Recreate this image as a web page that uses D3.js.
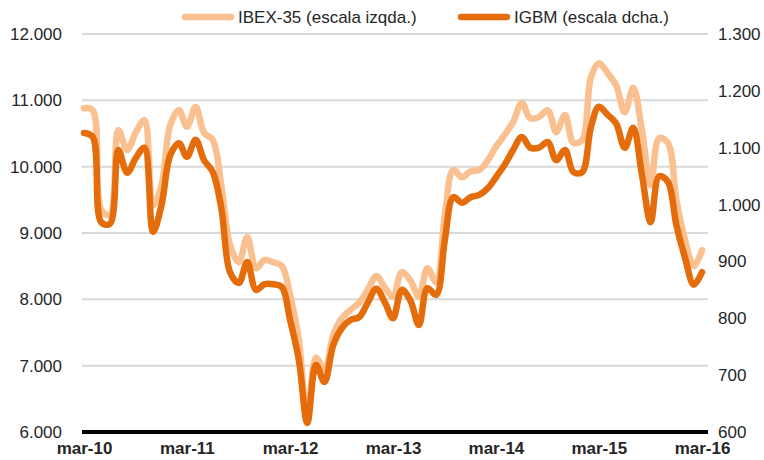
<!DOCTYPE html>
<html>
<head>
<meta charset="utf-8">
<script src="https://cdn.jsdelivr.net/npm/d3@7"></script>
<style>
  body { margin: 0; background: #fff; }
  svg { display: block; font-family: "Liberation Sans", Arial, sans-serif; }
</style>
</head>
<body>
<svg id="chart" width="764" height="460"></svg>
<script>
// monthly closes, mar-10 .. mar-16
let start_date = new Date(2010, 2, 1);
let ibex = [
  10880, 10850, 9350, 9270, 10550, 10250, 10520, 10700, 9420, 9720, 10630, 10850,
  10600, 10900, 10510, 10400, 9720, 8820, 8560, 8940, 8470, 8590, 8560, 8500,
  8070, 7390, 6180, 7120, 6930, 7460, 7720, 7840, 7950, 8140, 8350, 8170,
  8040, 8410, 8290, 8040, 8470, 8260, 9270, 9950, 9840, 9930, 9950, 10100,
  10300, 10480, 10670, 10960, 10730, 10750, 10850, 10520, 10780, 10360, 10400, 11350,
  11560, 11410, 11230, 10820, 11190, 10550, 9720, 10430, 10360, 9500, 8890, 8500,
  8740
];
let igbm = [
  1126, 1119, 969, 966, 1096, 1056, 1082, 1100, 952, 999, 1087, 1108,
  1084, 1114, 1078, 1057, 994, 881, 862, 899, 850, 860, 860, 855,
  797, 727, 616, 718, 688, 753, 783, 797, 802, 827, 852, 827,
  800, 850, 832, 788, 853, 841, 938, 1013, 1003, 1013, 1017, 1029,
  1048, 1070, 1096, 1119, 1100, 1100, 1110, 1078, 1096, 1057, 1057, 1136,
  1172, 1158, 1143, 1100, 1135, 1052, 969, 1050, 1040, 964, 906, 859,
  881
];
let left_ticks = [6000, 7000, 8000, 9000, 10000, 11000, 12000];
let right_ticks = [600, 700, 800, 900, 1000, 1100, 1200, 1300];
let x_labels = ["mar-10", "mar-11", "mar-12", "mar-13", "mar-14", "mar-15", "mar-16"];
let series_names = ["IBEX-35 (escala izqda.)", "IGBM (escala dcha.)"];

let light = "#fac090";
let dark = "#e46c0a";

let svg = d3.select("#chart");

let dates = ibex.map((d, i) => d3.timeMonth.offset(start_date, i));
let fmt = (v) => d3.format(",")(v).replace(/,/g, ".");

let x_scale = d3.scaleTime()
  .domain([dates[0], dates[dates.length - 1]])
  .range([84, 702]);
let y_left = d3.scaleLinear()
  .domain([6000, 12000])
  .range([432, 34]);
let y_right = d3.scaleLinear()
  .domain([600, 1300])
  .range([432, 34]);

// horizontal gridlines from the left scale
svg.append("g")
  .selectAll("line")
  .data(left_ticks.slice(1))
  .enter().append("line")
    .attr("x1", 82)
    .attr("x2", 708)
    .attr("y1", (d) => y_left(d))
    .attr("y2", (d) => y_left(d))
    .attr("stroke", "#d9d9d9")
    .attr("stroke-width", 2);

// left axis labels
let left_axis = svg.append("g")
  .attr("transform", "translate(62,0)")
  .call(d3.axisLeft(y_left).tickValues(left_ticks).tickSize(0).tickPadding(0).tickFormat(fmt));
left_axis.select(".domain").remove();
left_axis.selectAll("text")
  .attr("font-size", 17)
  .attr("font-family", "Liberation Sans, Arial, sans-serif")
  .attr("fill", "#262626");

// right axis labels
let right_axis = svg.append("g")
  .attr("transform", "translate(718,0)")
  .call(d3.axisRight(y_right).tickValues(right_ticks).tickSize(0).tickPadding(0).tickFormat(fmt));
right_axis.select(".domain").remove();
right_axis.selectAll("text")
  .attr("font-size", 17)
  .attr("font-family", "Liberation Sans, Arial, sans-serif")
  .attr("fill", "#262626");

let line_left = d3.line()
  .x((d, i) => x_scale(dates[i]))
  .y((d) => y_left(d))
  .curve(d3.curveCatmullRom.alpha(0.5));
let line_right = d3.line()
  .x((d, i) => x_scale(dates[i]))
  .y((d) => y_right(d))
  .curve(d3.curveCatmullRom.alpha(0.5));

svg.append("path")
  .datum(ibex)
  .attr("d", line_left)
  .attr("fill", "none")
  .attr("stroke", light)
  .attr("stroke-width", 6.5)
  .attr("stroke-linejoin", "round")
  .attr("stroke-linecap", "round");

svg.append("path")
  .datum(igbm)
  .attr("d", line_right)
  .attr("fill", "none")
  .attr("stroke", dark)
  .attr("stroke-width", 6.5)
  .attr("stroke-linejoin", "round")
  .attr("stroke-linecap", "round");

// bottom axis line and month labels
svg.append("line")
  .attr("x1", 82)
  .attr("x2", 708)
  .attr("y1", 432)
  .attr("y2", 432)
  .attr("stroke", "#000")
  .attr("stroke-width", 4);

let x_axis = svg.append("g")
  .attr("transform", "translate(0,442)")
  .call(d3.axisBottom(x_scale)
    .tickValues(x_labels.map((d, i) => d3.timeMonth.offset(start_date, i * 12)))
    .tickSize(0).tickPadding(0)
    .tickFormat((d, i) => x_labels[i]));
x_axis.select(".domain").remove();
x_axis.selectAll("text")
  .attr("font-size", 17)
  .attr("font-weight", "bold")
  .attr("font-family", "Liberation Sans, Arial, sans-serif")
  .attr("fill", "#262626");

// legend
let legend = svg.append("g")
  .selectAll("g")
  .data(series_names)
  .enter().append("g")
    .attr("transform", (d, i) => "translate(" + (182 + i * 276) + ",17)");
legend.append("line")
  .attr("x1", 3)
  .attr("x2", 49)
  .attr("stroke", (d, i) => i == 0 ? light : dark)
  .attr("stroke-width", 6.5)
  .attr("stroke-linecap", "round");
legend.append("text")
  .attr("x", 56)
  .attr("dy", "0.35em")
  .attr("font-size", 17)
  .attr("fill", "#262626")
  .text((d) => d);
</script>
</body>
</html>
